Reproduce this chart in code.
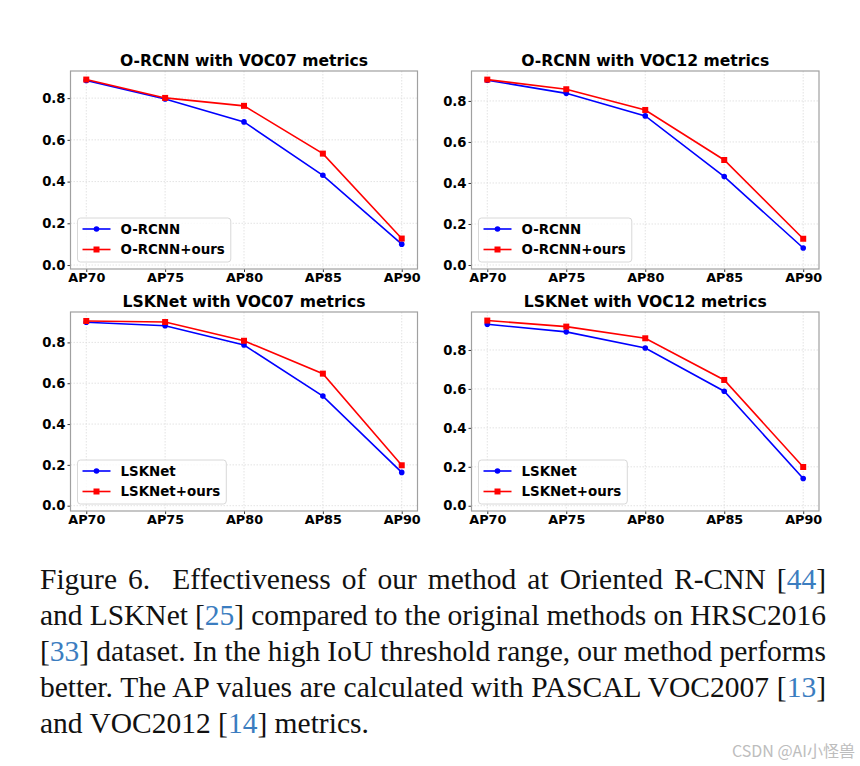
<!DOCTYPE html>
<html>
<head>
<meta charset="utf-8">
<script src="https://cdn.jsdelivr.net/npm/d3@7"></script>
<style>
  body { margin: 0; background: #fff; }
  svg { display: block; }
</style>
</head>
<body>
<div id="chart"></div>
<script>
// values
const categories = ['AP70', 'AP75', 'AP80', 'AP85', 'AP90']
const yTicks = [0, 0.2, 0.4, 0.6, 0.8]

const orcnnVoc07 = [0.885, 0.796, 0.686, 0.430, 0.100]
const orcnnOursVoc07 = [0.889, 0.801, 0.763, 0.534, 0.127]
const orcnnVoc12 = [0.901, 0.837, 0.727, 0.431, 0.083]
const orcnnOursVoc12 = [0.904, 0.857, 0.756, 0.512, 0.128]
const lsknetVoc07 = [0.899, 0.882, 0.787, 0.537, 0.163]
const lsknetOursVoc07 = [0.905, 0.900, 0.808, 0.647, 0.198]
const lsknetVoc12 = [0.932, 0.893, 0.810, 0.588, 0.140]
const lsknetOursVoc12 = [0.951, 0.920, 0.860, 0.646, 0.199]

const titles = [
  'O-RCNN with VOC07 metrics',
  'O-RCNN with VOC12 metrics',
  'LSKNet with VOC07 metrics',
  'LSKNet with VOC12 metrics'
]

const svg = d3
  .select('#chart')
  .append('svg')
  .attr('width', 860)
  .attr('height', 766)

// panel layout (pixels) + y range seen in each panel
const panels = [
  { left: 70.5, top: 71, width: 347, height: 198, yDomain: [-0.019, 0.930], base: orcnnVoc07, ours: orcnnOursVoc07, name: 'O-RCNN' },
  { left: 471.5, top: 71, width: 347.5, height: 198, yDomain: [-0.0195, 0.946], base: orcnnVoc12, ours: orcnnOursVoc12, name: 'O-RCNN' },
  { left: 70.5, top: 312, width: 347, height: 199, yDomain: [-0.026, 0.949], base: lsknetVoc07, ours: lsknetOursVoc07, name: 'LSKNet' },
  { left: 471.5, top: 312, width: 347.5, height: 199, yDomain: [-0.027, 0.995], base: lsknetVoc12, ours: lsknetOursVoc12, name: 'LSKNet' }
]

panels.forEach(function(p, i) {
  const g = svg
    .append('g')
    .attr('transform', 'translate(' + p.left + ',' + p.top + ')')

  const xPositionScale = d3
    .scaleLinear()
    .domain([-0.2, categories.length - 1 + 0.2])
    .range([0, p.width])

  const yPositionScale = d3
    .scaleLinear()
    .domain(p.yDomain)
    .range([p.height, 0])

  // grid
  g.selectAll('.vgrid')
    .data(categories)
    .enter()
    .append('line')
    .attr('x1', (d, j) => xPositionScale(j))
    .attr('x2', (d, j) => xPositionScale(j))
    .attr('y1', 0)
    .attr('y2', p.height)
    .attr('stroke', '#dcdcdc')
    .attr('stroke-width', 0.8)
    .attr('stroke-dasharray', '1.5,1.5')

  g.selectAll('.hgrid')
    .data(yTicks)
    .enter()
    .append('line')
    .attr('x1', 0)
    .attr('x2', p.width)
    .attr('y1', d => yPositionScale(d))
    .attr('y2', d => yPositionScale(d))
    .attr('stroke', '#dcdcdc')
    .attr('stroke-width', 0.8)
    .attr('stroke-dasharray', '1.5,1.5')

  // axes
  const xAxis = d3
    .axisBottom(xPositionScale)
    .tickValues(d3.range(categories.length))
    .tickFormat(j => categories[j])
    .tickSize(3)
    .tickPadding(1)
  g.append('g')
    .attr('class', 'axis x-axis')
    .attr('transform', 'translate(0,' + p.height + ')')
    .call(xAxis)

  const yAxis = d3
    .axisLeft(yPositionScale)
    .tickValues(yTicks)
    .tickFormat(d3.format('.1f'))
    .tickSize(3)
    .tickPadding(2)
  g.append('g')
    .attr('class', 'axis y-axis')
    .call(yAxis)

  g.selectAll('.axis path').attr('stroke', 'none')
  g.selectAll('.axis line').attr('stroke', '#222').attr('stroke-width', 0.9)
  g.selectAll('.axis text')
    .attr('font-family', 'DejaVu Sans')
    .attr('font-weight', 'bold')
    .attr('font-size', 13.2)
    .attr('fill', '#000')
  g.selectAll('.x-axis text').attr('font-size', 12.8)

  // frame
  g.append('rect')
    .attr('width', p.width)
    .attr('height', p.height)
    .attr('fill', 'none')
    .attr('stroke', '#a0a0a0')
    .attr('stroke-width', 1.2)

  const line = d3
    .line()
    .x((d, j) => xPositionScale(j))
    .y(d => yPositionScale(d))

  // base series (blue, circles)
  g.append('path')
    .datum(p.base)
    .attr('d', line)
    .attr('fill', 'none')
    .attr('stroke', '#0000ff')
    .attr('stroke-width', 1.6)
  g.selectAll('.dot')
    .data(p.base)
    .enter()
    .append('circle')
    .attr('cx', (d, j) => xPositionScale(j))
    .attr('cy', d => yPositionScale(d))
    .attr('r', 2.8)
    .attr('fill', '#0000ff')

  // ours (red, squares)
  g.append('path')
    .datum(p.ours)
    .attr('d', line)
    .attr('fill', 'none')
    .attr('stroke', '#ff0000')
    .attr('stroke-width', 1.6)
  g.selectAll('.sq')
    .data(p.ours)
    .enter()
    .append('rect')
    .attr('x', (d, j) => xPositionScale(j) - 3)
    .attr('y', d => yPositionScale(d) - 3)
    .attr('width', 6)
    .attr('height', 6)
    .attr('fill', '#ff0000')

  // title
  g.append('text')
    .attr('x', p.width / 2)
    .attr('y', -5)
    .attr('text-anchor', 'middle')
    .attr('font-family', 'DejaVu Sans')
    .attr('font-weight', 'bold')
    .attr('font-size', 15.6)
    .text(titles[i])

  // legend
  const legend = g.append('g')
    .attr('transform', 'translate(7,' + (p.height - 51) + ')')
  const box = legend.append('rect')
    .attr('height', 44)
    .attr('rx', 3)
    .attr('fill', 'rgba(255,255,255,0.8)')
    .attr('stroke', '#d8d8d8')
    .attr('stroke-width', 1)

  const entries = [
    { label: p.name, color: '#0000ff', shape: 'circle' },
    { label: p.name + '+ours', color: '#ff0000', shape: 'square' }
  ]
  let maxW = 0
  entries.forEach(function(e, k) {
    const cy = 11 + k * 20.5
    legend.append('line')
      .attr('x1', 5).attr('x2', 33)
      .attr('y1', cy).attr('y2', cy)
      .attr('stroke', e.color)
      .attr('stroke-width', 1.6)
    if (e.shape == 'circle') {
      legend.append('circle').attr('cx', 19).attr('cy', cy).attr('r', 2.8).attr('fill', e.color)
    } else {
      legend.append('rect').attr('x', 16).attr('y', cy - 3).attr('width', 6).attr('height', 6).attr('fill', e.color)
    }
    const t = legend.append('text')
      .attr('x', 43)
      .attr('y', cy)
      .attr('dy', '0.36em')
      .attr('font-family', 'DejaVu Sans')
      .attr('font-weight', 'bold')
      .attr('font-size', 13.4)
      .text(e.label)
    maxW = Math.max(maxW, t.node().getComputedTextLength())
  })
  box.attr('width', 43 + maxW + 6)
})

// caption, justified line by line
const captionLines = [
  [['Figure 6.  Effectiveness of our method at Oriented R-CNN [', 0], ['44', 1], [']', 0]],
  [['and LSKNet [', 0], ['25', 1], ['] compared to the original methods on HRSC2016', 0]],
  [['[', 0], ['33', 1], ['] dataset. In the high IoU threshold range, our method performs', 0]],
  [['better. The AP values are calculated with PASCAL VOC2007 [', 0], ['13', 1], [']', 0]],
  [['and VOC2012 [', 0], ['14', 1], ['] metrics.', 0]]
]
const captionBaselines = [589, 625, 661, 697, 733]

captionLines.forEach(function(parts, i) {
  const t = svg.append('text')
    .attr('x', 40)
    .attr('y', captionBaselines[i])
    .attr('font-family', 'Liberation Serif')
    .attr('font-size', 29.5)
    .attr('fill', '#111')
    .style('white-space', 'pre')
  parts.forEach(function(pt) {
    t.append('tspan')
      .attr('fill', pt[1] ? '#3b7dc0' : '#111')
      .text(pt[0])
  })
  if (i < captionLines.length - 1) {
    const txt = parts.map(pt => pt[0]).join('')
    const spaces = (txt.match(/ /g) || []).length
    const w = t.node().getComputedTextLength()
    t.attr('word-spacing', (786 - w) / spaces)
  }
})

svg.append('text')
  .attr('x', 855)
  .attr('y', 757)
  .attr('text-anchor', 'end')
  .attr('font-family', 'Noto Sans CJK SC')
  .attr('font-size', 16)
  .attr('fill', '#bdbdbd')
  .text('CSDN @AI小怪兽')
</script>
</body>
</html>
